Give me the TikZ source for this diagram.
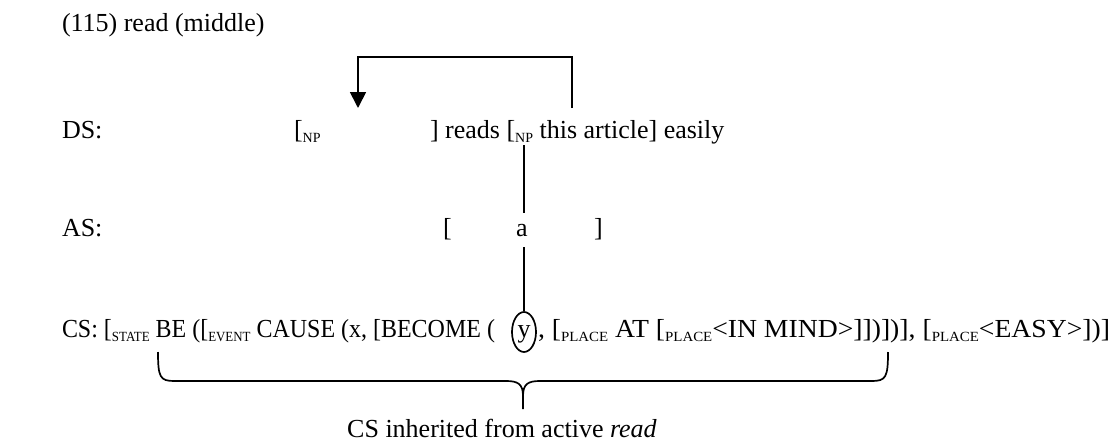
\documentclass[tikz,border=0pt]{standalone}
\usepackage{fontspec}
\setmainfont{Liberation Serif}
\usetikzlibrary{arrows.meta,shapes.geometric}
% small lowered category label, e.g. NP, STATE, PLACE
\newcommand\sbs[1]{\raisebox{-0.35ex}{\fontsize{14}{14}\selectfont #1}}

\begin{document}
\begin{tikzpicture}[x=1pt,y=-1pt,
  txt/.style={inner sep=0pt, outer sep=0pt, font=\fontsize{26}{30}\selectfont, anchor=base west},
  link/.style={line width=1.7pt},
  ring/.style={draw, ellipse, line width=1.7pt, minimum width=24pt, minimum height=40pt, inner sep=0pt},
  bracestroke/.style={line width=1.7pt}]
\useasboundingbox (0,0) rectangle (1113,444);

% heading
\node[txt] (title) at (62,32) {(115) read (middle)};

% DS row
\node[txt] (dslab) at (62,138) {DS:};
\node[txt] (dsnp) at (294,138) {[\sbs{NP}};
\node[txt] (dsrest) at (430,138) {] reads [\sbs{NP} this article] easily};
\coordinate (gap) at (358,108);
\coordinate (obj) at (572,108);
\coordinate (objnp) at (524,145);

% AS row
\node[txt] (aslab) at (62,236) {AS:};
\node[txt] (asl) at (443,236) {[};
\node[txt, anchor=base] (asa) at (522,236) {a};
\node[txt] (asr) at (594,236) {]};
\coordinate (aup) at (524,213);
\coordinate (adown) at (524,247);

% CS row: the two stretches of the conceptual structure around the circled y
\node[txt] (cslab) at (62,337)
  {\resizebox{433pt}{\height}{CS: [\sbs{STATE} BE ([\sbs{EVENT} CAUSE (x, [BECOME (}};
\node[txt, anchor=base] (csy) at (524,337) {y};
\node[txt] (csrest) at (538,337)
  {\resizebox{572pt}{\height}{, [\sbs{PLACE} AT [\sbs{PLACE}<IN MIND>]])])], [\sbs{PLACE}<EASY>])]}};
\node[ring] (yring) at (524,332) {};

% movement arrow from the object to the empty subject slot
\draw[link, -{Triangle[width=16pt,length=16pt]}] (obj) |- (460,57) -| (gap);

% linking line DS -> AS -> CS
\draw[link] (objnp) -- (aup);
\draw[link] (adown) -- (yring.north);

% brace under the inherited part
\draw[bracestroke]
  (158,352) .. controls (158,377) and (160,381) .. (174,381) -- (506,381)
  .. controls (518,381) and (523,384) .. (523,396) -- (523,409);
\draw[bracestroke]
  (888,352) .. controls (888,377) and (886,381) .. (872,381) -- (540,381)
  .. controls (528,381) and (523,384) .. (523,396);

\node[txt, anchor=base] (caption) at (502,437) {CS inherited from active \textit{read}};
\end{tikzpicture}
\end{document}
